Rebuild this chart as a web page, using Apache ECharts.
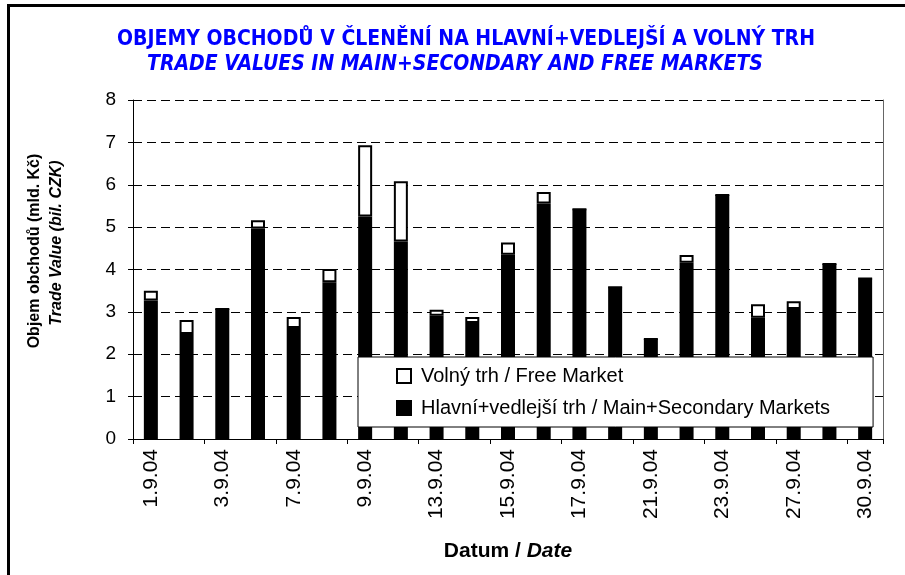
<!DOCTYPE html>
<html>
<head>
<meta charset="utf-8">
<script src="https://cdn.jsdelivr.net/npm/echarts@6/dist/echarts.min.js"></script>
<style>
  html, body { margin: 0; padding: 0; background: #fff; }
  #main { width: 905px; height: 575px; }
</style>
</head>
<body>
<div id="main"></div>
<script>
// obchodní dny září 2004 (28.9. svátek)
var dates = ['1.9.04', '2.9.04', '3.9.04', '6.9.04', '7.9.04', '8.9.04', '9.9.04', '10.9.04',
  '13.9.04', '14.9.04', '15.9.04', '16.9.04', '17.9.04', '20.9.04', '21.9.04', '22.9.04',
  '23.9.04', '24.9.04', '27.9.04', '29.9.04', '30.9.04'];
// hlavní+vedlejší trh (mld. Kč)
var mainMarket = [3.27, 2.48, 3.07, 4.97, 2.62, 3.70, 5.25, 4.66, 2.91, 2.74, 4.35,
  5.56, 5.42, 3.58, 2.36, 4.16, 5.76, 2.86, 3.07, 4.13, 3.79];
// volný trh (mld. Kč)
var freeMarket = [0.23, 0.33, 0, 0.19, 0.26, 0.31, 1.68, 1.42, 0.14, 0.14, 0.29,
  0.27, 0, 0, 0, 0.18, 0, 0.32, 0.18, 0, 0];
var yTicks = [0, 1, 2, 3, 4, 5, 6, 7, 8];

var nameMain = 'Hlavní+vedlejší trh / Main+Secondary Markets';
var nameFree = 'Volný trh / Free Market';
var font = 'Liberation Sans, Arial, sans-serif';
var narrow = 'Liberation Sans Narrow, Arial Narrow, DejaVu Sans Condensed, sans-serif';

var myChart = echarts.init(document.getElementById('main'));

var option = {
  backgroundColor: '#fff',
  animation: false,
  title: [
    {
      text: 'OBJEMY OBCHODŮ V ČLENĚNÍ NA HLAVNÍ+VEDLEJŠÍ A VOLNÝ TRH',
      left: 117, top: 29, padding: 0,
      textStyle: { color: '#0000ff', fontFamily: narrow, fontWeight: 'bold', fontSize: 21 }
    },
    {
      text: 'TRADE VALUES IN MAIN+SECONDARY AND FREE MARKETS',
      left: 147, top: 54, padding: 0,
      textStyle: { color: '#0000ff', fontFamily: narrow, fontWeight: 'bold', fontStyle: 'italic', fontSize: 21 }
    }
  ],
  legend: {
    orient: 'vertical',
    left: 358, top: 357,
    padding: [9, 43, 9, 38],
    itemGap: 12,
    itemWidth: 14, itemHeight: 14,
    icon: 'rect',
    backgroundColor: '#fff',
    borderColor: '#000', borderWidth: 1,
    data: [nameFree, nameMain],
    textStyle: { fontFamily: font, fontSize: 20, color: '#000', padding: [0, 0, 0, 5] }
  },
  grid: { left: 133, right: 22, top: 100, bottom: 136 },
  xAxis: {
    type: 'category',
    data: dates,
    axisLine: { lineStyle: { color: '#000', width: 1 } },
    axisTick: { show: true, length: 5, lineStyle: { color: '#000' } },
    axisLabel: { interval: 1, rotate: 90, margin: 10, fontFamily: font, fontSize: 21, color: '#000' }
  },
  yAxis: [
    {
      type: 'value',
      min: 0, max: 8, interval: 1,
      axisLine: { show: true, lineStyle: { color: '#000', width: 1 } },
      axisTick: { show: true, length: 5, lineStyle: { color: '#000' } },
      axisLabel: {
        margin: 17, fontFamily: font, fontSize: 19, color: '#000',
        formatter: function (v) { return yTicks.indexOf(v) >= 0 ? String(v) : ''; }
      },
      splitLine: { show: true, lineStyle: { color: '#000', width: 1, type: [9, 5] } }
    },
    {
      type: 'value',
      position: 'right',
      min: 0, max: 8, interval: 1,
      axisLine: { show: true, lineStyle: { color: '#666', width: 1 } },
      axisTick: { show: false },
      axisLabel: { show: false },
      splitLine: { show: false }
    }
  ],
  series: [
    {
      name: nameMain,
      type: 'bar',
      stack: 'total',
      barWidth: 14,
      data: mainMarket,
      itemStyle: { color: '#000', borderColor: '#000', borderWidth: 2 }
    },
    {
      name: nameFree,
      type: 'bar',
      stack: 'total',
      barWidth: 14,
      data: freeMarket,
      itemStyle: { color: '#fff', borderColor: '#000', borderWidth: 2 }
    }
  ],
  graphic: [
    // rámeček
    { type: 'line', shape: { x1: 7, y1: 5.5, x2: 905, y2: 5.5 }, style: { stroke: '#000', lineWidth: 3 } },
    { type: 'line', shape: { x1: 8.5, y1: 4, x2: 8.5, y2: 575 }, style: { stroke: '#000', lineWidth: 3 } },
    // popis osy y
    {
      type: 'text', x: 35, y: 251, rotation: Math.PI / 2,
      style: {
        text: 'Objem obchodů (mld. Kč)', fill: '#000',
        font: 'bold 16px ' + font, align: 'center', verticalAlign: 'middle'
      }
    },
    {
      type: 'text', x: 57, y: 243, rotation: Math.PI / 2,
      style: {
        text: 'Trade Value (bil. CZK)', fill: '#000',
        font: 'italic bold 16px ' + font, align: 'center', verticalAlign: 'middle'
      }
    },
    // popis osy x
    {
      type: 'text', x: 508, y: 551,
      style: {
        text: '{a|Datum / }{b|Date}', fill: '#000', align: 'center', verticalAlign: 'middle',
        rich: {
          a: { fontFamily: font, fontWeight: 'bold', fontSize: 21 },
          b: { fontFamily: font, fontWeight: 'bold', fontStyle: 'italic', fontSize: 21 }
        }
      }
    }
  ]
};

myChart.setOption(option);
</script>
</body>
</html>
